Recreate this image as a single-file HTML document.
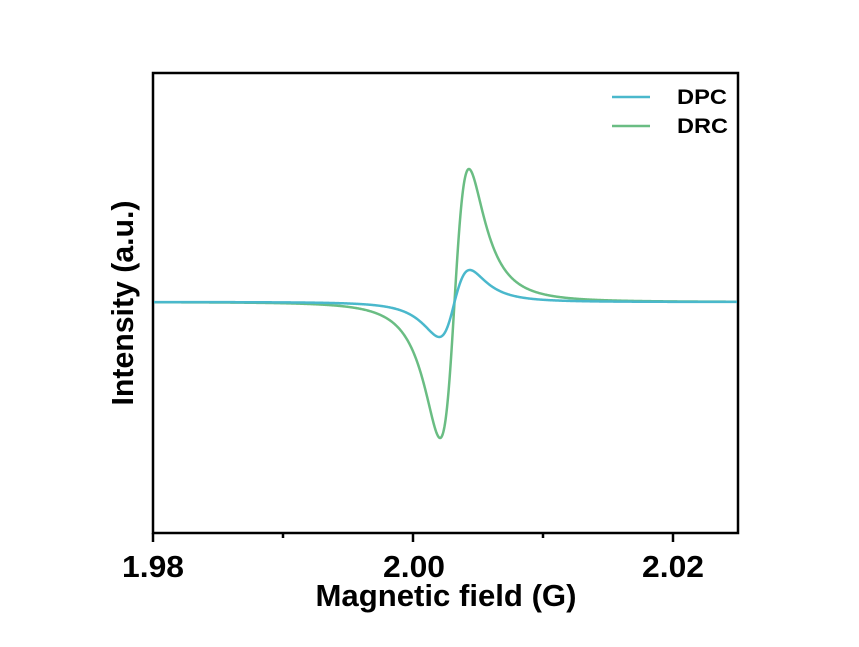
<!DOCTYPE html>
<html><head><style>
body{margin:0;background:#fff}
svg text{font-family:"Liberation Sans",Arial,sans-serif;font-weight:bold;fill:#000}
</style></head><body>
<svg id="s" width="859" height="642" xmlns="http://www.w3.org/2000/svg">
<rect x="153" y="73" width="585" height="460" fill="none" stroke="#000" stroke-width="2.5"/>
<g stroke="#000" stroke-width="2.5">
<line x1="153" y1="533" x2="153" y2="542"/>
<line x1="283" y1="533" x2="283" y2="538"/>
<line x1="413" y1="533" x2="413" y2="542"/>
<line x1="543" y1="533" x2="543" y2="538"/>
<line x1="673" y1="533" x2="673" y2="542"/>
</g>
<text x="153" y="577" font-size="31" text-anchor="middle" textLength="62" lengthAdjust="spacingAndGlyphs">1.98</text>
<text x="414" y="577" font-size="31" text-anchor="middle" textLength="62" lengthAdjust="spacingAndGlyphs">2.00</text>
<text x="673" y="577" font-size="31" text-anchor="middle" textLength="62" lengthAdjust="spacingAndGlyphs">2.02</text>
<text x="446" y="606" font-size="31" text-anchor="middle" textLength="261" lengthAdjust="spacingAndGlyphs">Magnetic field (G)</text>
<text transform="translate(133,303) rotate(-90)" font-size="31" text-anchor="middle" textLength="205" lengthAdjust="spacingAndGlyphs">Intensity (a.u.)</text>
<line x1="612" y1="97" x2="650" y2="97" stroke="#4ab8cc" stroke-width="2.5"/>
<line x1="612" y1="126" x2="650" y2="126" stroke="#6abd83" stroke-width="2.5"/>
<text x="677" y="104" font-size="21" textLength="50" lengthAdjust="spacingAndGlyphs">DPC</text>
<text x="677" y="133" font-size="21" textLength="51" lengthAdjust="spacingAndGlyphs">DRC</text>
<path id="g" fill="none" stroke="#6abd83" stroke-width="2.5"/>
<path id="b" fill="none" stroke="#4ab8cc" stroke-width="2.5"/>
</svg>
<script>
function mk(x0,w,up,dn){var d="";for(var x=154;x<=737;x+=0.5){var u=(x-x0)/w;var v=u/Math.pow(1+u*u,2)/0.3248;var y=302-(v>0?up:dn)*v;d+=(x==154?"M":"L")+x+","+y.toFixed(2);}return d;}
document.getElementById("g").setAttribute("d",mk(454.5,25,133,136));
document.getElementById("b").setAttribute("d",mk(454.5,26.5,32,35));
</script>
</body></html>
